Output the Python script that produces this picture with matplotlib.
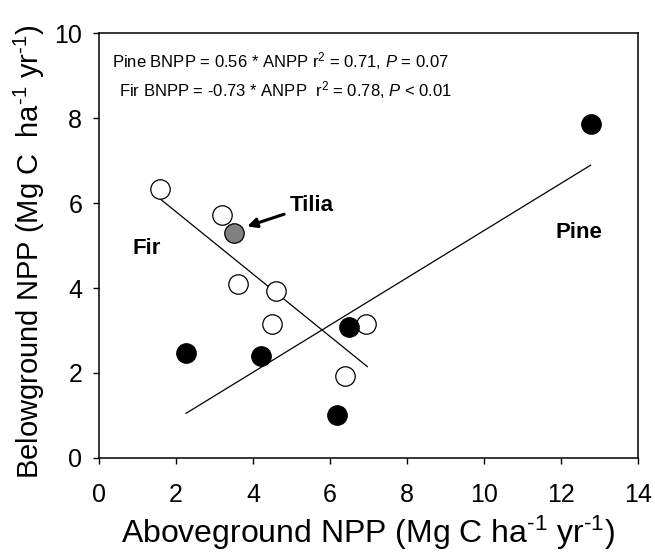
import matplotlib
matplotlib.use("Agg")
import matplotlib.pyplot as plt

plt.rcParams['font.family'] = ['Liberation Sans', 'DejaVu Sans']
plt.rcParams['mathtext.fontset'] = 'custom'
plt.rcParams['mathtext.rm'] = 'Liberation Sans'
plt.rcParams['mathtext.it'] = 'Liberation Sans:italic'
plt.rcParams['mathtext.bf'] = 'Liberation Sans:bold'

# fir plots (open circles)
fir_anpp = [1.58, 3.20, 3.62, 4.59, 4.49, 6.94, 6.39]
fir_bnpp = [6.33, 5.72, 4.09, 3.93, 3.15, 3.15, 1.93]
# tilia plot (grey)
tilia_anpp = [3.51]
tilia_bnpp = [5.30]
# pine plots (black)
pine_anpp = [2.26, 4.22, 6.50, 6.18, 12.77]
pine_bnpp = [2.46, 2.39, 3.09, 1.02, 7.85]

# regression lines as drawn
fir_line_x = [1.57, 6.97]
fir_line_y = [6.11, 2.15]
pine_line_x = [2.26, 12.77]
pine_line_y = [1.05, 6.89]

xticks = [0, 2, 4, 6, 8, 10, 12, 14]
yticks = [0, 2, 4, 6, 8, 10]

fig = plt.figure(figsize=(6.55, 5.53), dpi=100)
ax = fig.add_axes([0.1511, 0.1718, 0.8229, 0.7685])

ax.plot(fir_line_x, fir_line_y, color='black', lw=0.9, zorder=1)
ax.plot(pine_line_x, pine_line_y, color='black', lw=0.9, zorder=1)

ax.plot(fir_anpp, fir_bnpp, 'o', ms=14, mfc='white', mec='black', mew=0.9, zorder=2)
ax.plot(tilia_anpp, tilia_bnpp, 'o', ms=14, mfc='#808080', mec='black', mew=0.9, zorder=2)
ax.plot(pine_anpp, pine_bnpp, 'o', ms=14, mfc='black', mec='black', mew=0.9, zorder=2)

ax.set_xlim(0, 14)
ax.set_ylim(0, 10)
ax.set_xticks(xticks)
ax.set_yticks(yticks)
ax.tick_params(direction='out', length=4, width=1, labelsize=18)
ax.tick_params(axis='x', pad=14)
ax.tick_params(axis='y', pad=8)
for s in ax.spines.values():
    s.set_linewidth(1.1)

ax.set_xlabel('Aboveground NPP (Mg C ha$^{\\text{-}1}$ yr$^{\\text{-}1}$)', fontsize=23, labelpad=5)
ax.set_ylabel('Belowground NPP (Mg C  ha$^{\\text{-}1}$ yr$^{\\text{-}1}$)', fontsize=21, labelpad=5)
ax.yaxis.label.set_y(0.485)

ax.text(0.025, 0.935, 'Pine BNPP = 0.56 * ANPP r$^2$ = 0.71, $\\it{P}$ = 0.07',
        transform=ax.transAxes, fontsize=12, va='center', ha='left')
ax.text(0.037, 0.865, 'Fir BNPP = -0.73 * ANPP  r$^2$ = 0.78, $\\it{P}$ < 0.01',
        transform=ax.transAxes, fontsize=12, va='center', ha='left')

ax.text(0.88, 4.92, 'Fir', fontsize=16, fontweight='bold', va='center', ha='left')
ax.text(11.85, 5.3, 'Pine', fontsize=16, fontweight='bold', va='center', ha='left')
ax.annotate('Tilia', xy=(3.85, 5.45), xytext=(4.95, 5.95), fontsize=16,
            fontweight='bold', va='center', ha='left',
            arrowprops=dict(arrowstyle='-|>', color='black', lw=2.2,
                            mutation_scale=14, shrinkA=2, shrinkB=0))

fig.savefig('out.png', dpi=100)
